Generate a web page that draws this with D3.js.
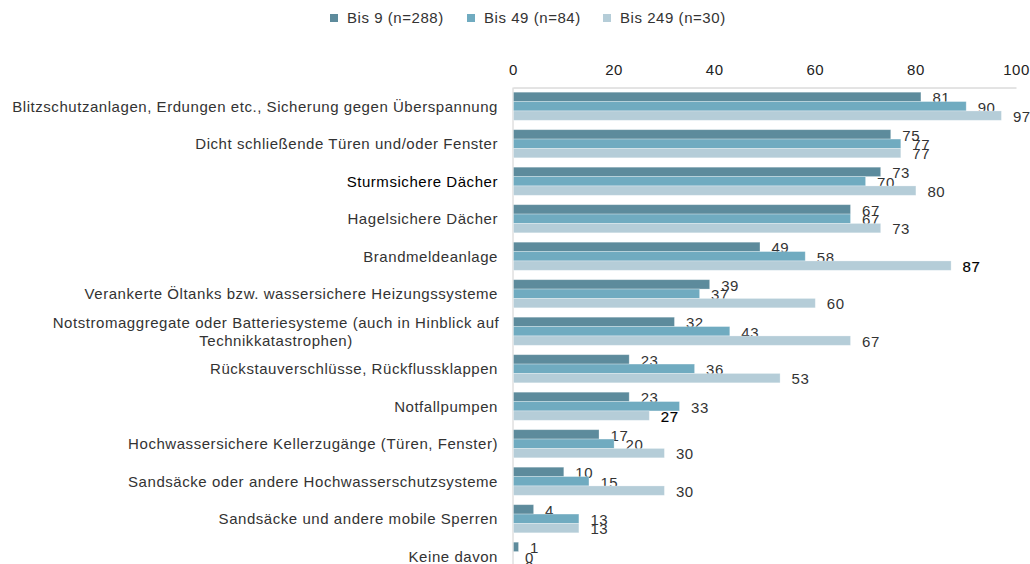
<!DOCTYPE html>
<html>
<head>
<meta charset="utf-8">
<script src="https://cdn.jsdelivr.net/npm/d3@7"></script>
<style>
  body { margin: 0; background: #fff; }
  text { font-family: "Liberation Sans", Arial, sans-serif; letter-spacing: 0.55px; }
</style>
</head>
<body>
<div id="chart"></div>
<script>
// categories, top to bottom (lines split where the label wraps)
categories = [
  ["Blitzschutzanlagen, Erdungen etc., Sicherung gegen Überspannung"],
  ["Dicht schließende Türen und/oder Fenster"],
  ["Sturmsichere Dächer"],
  ["Hagelsichere Dächer"],
  ["Brandmeldeanlage"],
  ["Verankerte Öltanks bzw. wassersichere Heizungssysteme"],
  ["Notstromaggregate oder Batteriesysteme (auch in Hinblick auf", "Technikkatastrophen)"],
  ["Rückstauverschlüsse, Rückflussklappen"],
  ["Notfallpumpen"],
  ["Hochwassersichere Kellerzugänge (Türen, Fenster)"],
  ["Sandsäcke oder andere Hochwasserschutzsysteme"],
  ["Sandsäcke und andere mobile Sperren"],
  ["Keine davon"]
];

seriesNames = ["Bis 9 (n=288)", "Bis 49 (n=84)", "Bis 249 (n=30)"];
bis9   = [81, 75, 73, 67, 49, 39, 32, 23, 23, 17, 10, 4, 1];
bis49  = [90, 77, 70, 67, 58, 37, 43, 36, 33, 20, 15, 13, 0];
bis249 = [97, 77, 80, 73, 87, 60, 67, 53, 27, 30, 30, 13, 0];
xTicks = [0, 20, 40, 60, 80, 100];

colors = ["#5d8b9c", "#70abc0", "#b5cdd8"];

width = 1030;
height = 564;
margin = { top: 87.5, left: 513, right: 14 };
fontSize = "15px";

let svg = d3.select("#chart").append("svg")
  .attr("width", width)
  .attr("height", height);

let x = d3.scaleLinear()
  .domain([0, 100])
  .range([margin.left, width - margin.right]);

let keys = categories.map((c, i) => i);
let y = d3.scaleBand()
  .domain(keys)
  .range([margin.top, margin.top + 13 * 37.5])
  .paddingInner(0.25)
  .paddingOuter(0.125);

let sub = d3.scaleBand()
  .domain([0, 1, 2])
  .range([0, y.bandwidth()]);

let series = [bis9, bis49, bis249];

// top axis
let xAxis = d3.axisTop(x)
  .tickValues(xTicks)
  .tickSize(0)
  .tickPadding(13);

let gx = svg.append("g")
  .attr("transform", "translate(0," + margin.top + ")")
  .call(xAxis);
gx.select(".domain").attr("stroke", "#c8c8c8");
gx.selectAll(".tick text")
  .attr("font-size", fontSize)
  .attr("fill", "#222");

// left axis line
svg.append("line")
  .attr("x1", x(0)).attr("x2", x(0))
  .attr("y1", margin.top).attr("y2", height)
  .attr("stroke", "#d0d0d0");

// bars
series.forEach(function(vals, s) {
  svg.append("g").selectAll("rect")
    .data(vals)
    .enter().append("rect")
    .attr("x", x(0) + 0.5)
    .attr("y", (d, i) => y(i) + sub(s))
    .attr("width", d => Math.max(0, x(d) - x(0)))
    .attr("height", sub.bandwidth())
    .attr("fill", colors[s])
    .attr("stroke", "#fff")
    .attr("stroke-opacity", 0.35)
    .attr("stroke-width", 0.8);

  // the two darker labels in the original (87, 27)
  let dark = (s == 2) ? [4, 8] : [];
  svg.append("g").selectAll("text")
    .data(vals)
    .enter().append("text")
    .attr("x", d => x(d) + 12)
    .attr("y", (d, i) => y(i) + sub(s) + sub.bandwidth() / 2 + 1)
    .attr("dy", "0.35em")
    .attr("font-size", fontSize)
    .attr("fill", (d, i) => dark.includes(i) ? "#000" : "#333")
    .attr("stroke", (d, i) => dark.includes(i) ? "#000" : "none")
    .attr("stroke-width", 0.2)
    .text(d => d);
});

// category labels
let labels = svg.append("g").selectAll("text")
  .data(categories)
  .enter().append("text")
  .attr("font-size", fontSize)
  .attr("fill", (d, i) => i == 2 ? "#000" : "#333")
  .attr("text-anchor", d => d.length > 1 ? "middle" : "end")
  .attr("x", d => d.length > 1 ? 276 : 498)
  .attr("y", (d, i) => y(i) + y.bandwidth() / 2 - (d.length - 1) * 9);

labels.each(function(d) {
  let t = d3.select(this);
  d.forEach(function(line, j) {
    t.append("tspan")
      .attr("x", t.attr("x"))
      .attr("dy", j == 0 ? "0.35em" : "18px")
      .text(line);
  });
});

// legend
let legendX = [330, 467, 603];
let legend = svg.append("g").selectAll("g")
  .data(seriesNames)
  .enter().append("g")
  .attr("transform", (d, i) => "translate(" + legendX[i] + ",18)");

legend.append("rect")
  .attr("x", 0).attr("y", -4)
  .attr("width", 8).attr("height", 8)
  .attr("fill", (d, i) => colors[i]);

legend.append("text")
  .attr("x", 17)
  .attr("dy", "0.35em")
  .attr("font-size", fontSize)
  .attr("fill", "#333")
  .text(d => d);
</script>
</body>
</html>
